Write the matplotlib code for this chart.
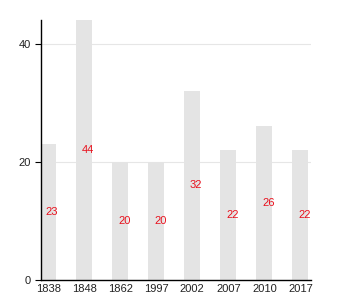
import matplotlib
matplotlib.use("Agg")
import matplotlib.pyplot as plt
import numpy as np

plt.rcParams["font.family"] = ["Liberation Sans", "DejaVu Sans"]

years = ["1838", "1848", "1862", "1997", "2002", "2007", "2010", "2017"]
values = [23, 44, 20, 20, 32, 22, 26, 22]
yticks = [0, 20, 40]

fig = plt.figure(figsize=(3.5, 3.0), dpi=100)
ax = fig.add_axes([0.117, 0.0667, 0.772, 0.8667])

x = np.arange(len(years))
ax.bar(x, values, width=0.44, color="#e4e4e4", zorder=2)

for xi, v in zip(x, values):
    ax.text(xi + 0.11, v / 2, str(v), color="#e8101c", fontsize=8,
            ha="center", va="center", zorder=3)

ax.set_xlim(-0.2, 7.3)
ax.set_ylim(0, 44)
ax.set_yticks(yticks)
ax.set_xticks(x)
ax.set_xticklabels(years)
ax.tick_params(axis="x", length=0, labelsize=8, pad=3, labelcolor="#222222")
ax.tick_params(axis="y", length=4, labelsize=8, width=0.8, labelcolor="#222222")
ax.grid(axis="y", color="#e6e6e6", linewidth=0.8, zorder=0)
for s in ["top", "right"]:
    ax.spines[s].set_visible(False)
ax.spines["left"].set_linewidth(1)
ax.spines["bottom"].set_linewidth(1)

fig.savefig("out.png", dpi=100)
